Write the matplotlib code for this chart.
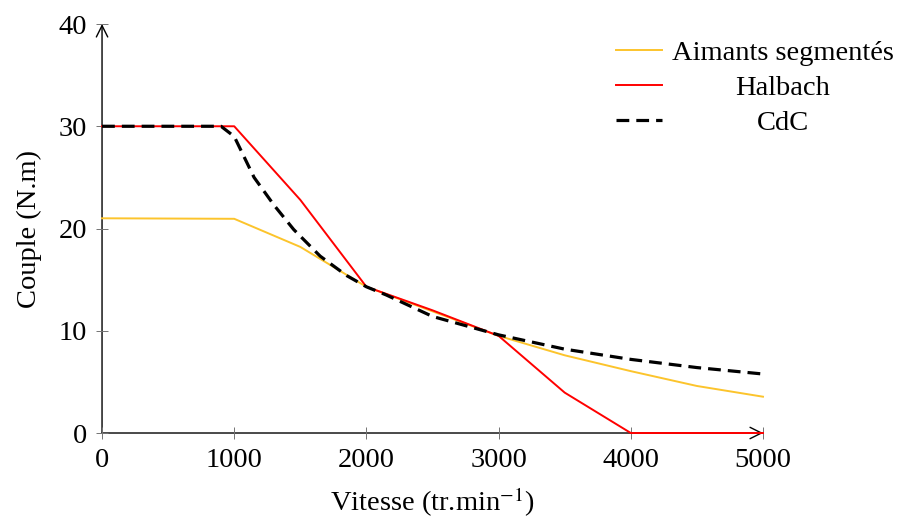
import matplotlib
matplotlib.use('Agg')
import matplotlib.pyplot as plt

plt.rcParams['font.family'] = ['Liberation Serif', 'DejaVu Serif']
plt.rcParams['mathtext.fontset'] = 'stix'
plt.rcParams['font.size'] = 20.5

# données
vitesse_aim = [0, 1000, 1500, 2000, 2500, 3000, 3500, 4000, 4500, 5000]
couple_aim = [21.0, 20.95, 18.2, 14.3, 11.9, 9.5, 7.6, 6.05, 4.6, 3.55]

vitesse_hal = [0, 1000, 1500, 2000, 2500, 3000, 3500, 4000, 4500, 5000]
couple_hal = [30.0, 30.0, 22.8, 14.3, 12.0, 9.5, 3.95, 0.0, 0.0, 0.0]

vitesse_cdc = [0, 900, 1000, 1150, 1300, 1450, 1650, 1850, 2000, 2150,
               2500, 3000, 3500, 4000, 4500, 5000]
couple_cdc = [30.0, 30.0, 29.0, 25.0, 22.3, 19.9, 17.3, 15.4, 14.3, 13.5,
              11.4, 9.6, 8.2, 7.2, 6.4, 5.77]

x_ticks = [0, 1000, 2000, 3000, 4000, 5000]
y_ticks = [0, 10, 20, 30, 40]

fig = plt.figure(figsize=(8.99, 5.2), dpi=100)
ax = fig.add_axes([0.1135, 0.1673, 0.7352, 0.7865])

ax.plot(vitesse_aim, couple_aim, color='#FCC42C', lw=1.4, label='Aimants segmentés',
        clip_on=False, zorder=4)
ax.plot(vitesse_hal, couple_hal, color='#FF0000', lw=1.4, label='Halbach',
        clip_on=False, zorder=4)
ax.plot(vitesse_cdc, couple_cdc, color='black', lw=2.3, ls=(0, (4.0, 2.2)), label='CdC',
        clip_on=False, zorder=5)

ax.set_xlim(0, 5000)
ax.set_ylim(0, 40)
ax.set_xticks(x_ticks)
ax.set_yticks(y_ticks)
ax.tick_params(direction='inout', length=8, width=0.7, color='0.45', pad=7, labelsize=20.5)

# axes avec flèches (style pgfplots)
for s in ax.spines.values():
    s.set_visible(False)
ax.annotate('', xy=(1, 0), xytext=(0, 0), xycoords='axes fraction', zorder=1,
            arrowprops=dict(arrowstyle='->', lw=1.0, color='black', shrinkA=0, shrinkB=0))
ax.annotate('', xy=(0, 1), xytext=(0, 0), xycoords='axes fraction', zorder=1,
            arrowprops=dict(arrowstyle='->', lw=1.0, color='black', shrinkA=0, shrinkB=0))

ax.set_xlabel(r'Vitesse (tr.min$^{-1}$)', fontsize=20.5, labelpad=9)
ax.set_ylabel('Couple (N.m)', fontsize=20.5, labelpad=12)

leg = fig.legend(loc='upper right', bbox_to_anchor=(1.016, 0.962), frameon=False,
                 fontsize=20.5, handlelength=1.6, handletextpad=0.35, labelspacing=0.32,
                 borderpad=0.2)

# centrer les libellés comme dans pgfplots
fig.canvas.draw()
r = fig.canvas.get_renderer()
textes = leg.get_texts()
largeurs = [t.get_window_extent(r).width for t in textes]
wmax = max(largeurs)
for t, w in zip(textes, largeurs):
    t.set_x((wmax - w) / 2)

fig.savefig('out.png', dpi=100)
plt.close(fig)
